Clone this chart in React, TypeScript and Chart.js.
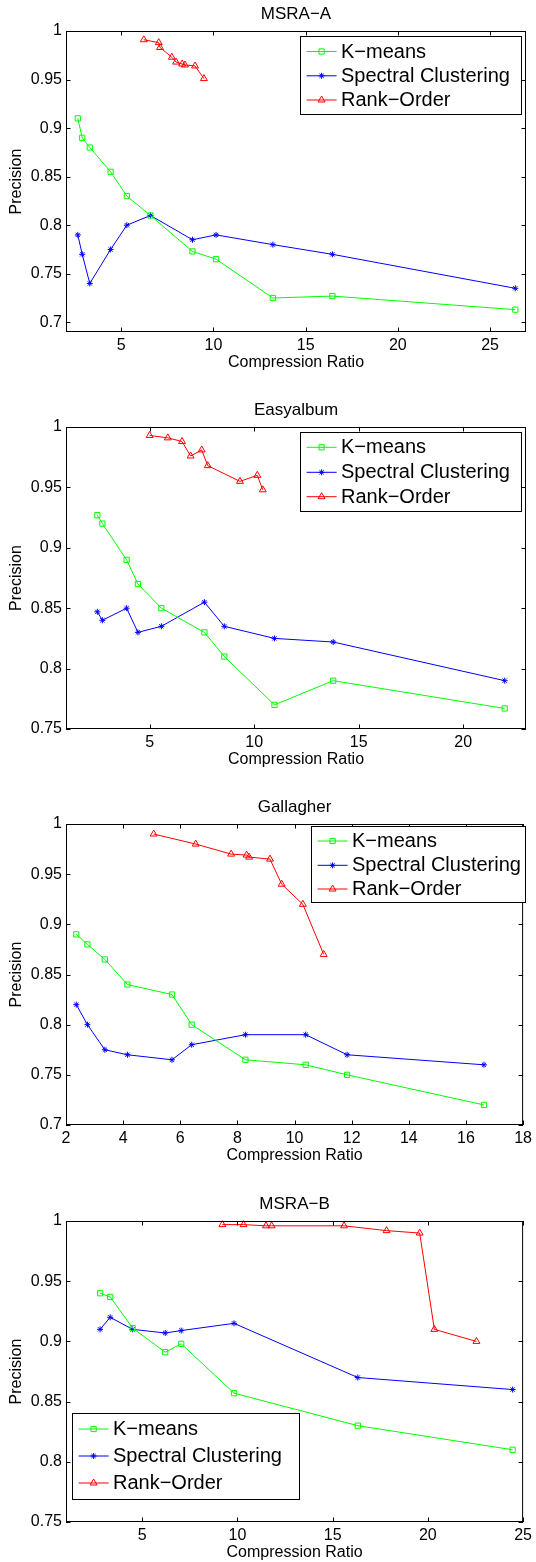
import React, { useEffect, useRef } from "react";
import { Chart, registerables } from "chart.js";

Chart.register(...registerables);

const FONT = "'Liberation Sans', Arial, Helvetica, sans-serif";

const SERIES_NAMES = ["K\u2212means", "Spectral Clustering", "Rank\u2212Order"];
const SERIES_COLORS = ["#00ff00", "#0000ff", "#ff0000"];
const SERIES_MARKERS = ["rect", "star", "triangle"];
const SERIES_RADII = [3.7, 3, 4];

const X_LABEL = "Compression Ratio";
const Y_LABEL = "Precision";

// ---- MSRA-A ----
const msraA_x = [2.64, 2.88, 3.29, 4.42, 5.3, 6.58, 8.86, 10.14, 13.22, 16.45, 26.37];
const msraA_kmeans = [0.91, 0.89, 0.88, 0.855, 0.83, 0.81, 0.773, 0.765, 0.725, 0.727, 0.713];
const msraA_spectral = [0.79, 0.77, 0.74, 0.775, 0.8, 0.81, 0.785, 0.79, 0.78, 0.77, 0.735];
const msraA_rank_x = [6.22, 7.03, 7.1, 7.74, 7.97, 8.3, 8.45, 9.0, 9.48];
const msraA_rank = [0.991, 0.988, 0.983, 0.973, 0.968, 0.966, 0.965, 0.964, 0.951];
const msraA_xTicks = [5, 10, 15, 20, 25];
const msraA_yTicks = [0.7, 0.75, 0.8, 0.85, 0.9, 0.95, 1];

// ---- Easyalbum ----
const easy_x = [2.5, 2.74, 3.9, 4.44, 5.56, 7.62, 8.57, 10.97, 13.78, 21.98];
const easy_kmeans = [0.927, 0.92, 0.89, 0.87, 0.85, 0.83, 0.81, 0.77, 0.79, 0.767];
const easy_spectral = [0.847, 0.84, 0.85, 0.83, 0.835, 0.855, 0.835, 0.825, 0.822, 0.79];
const easy_rank_x = [5.0, 5.87, 6.55, 6.96, 7.49, 7.78, 9.32, 10.15, 10.41];
const easy_rank = [0.993, 0.991, 0.988, 0.976, 0.981, 0.968, 0.955, 0.96, 0.948];
const easy_xTicks = [5, 10, 15, 20];
const easy_yTicks = [0.75, 0.8, 0.85, 0.9, 0.95, 1];

// ---- Gallagher ----
const gal_x = [2.36, 2.75, 3.36, 4.15, 5.71, 6.4, 8.28, 10.39, 11.84, 16.63];
const gal_kmeans = [0.89, 0.88, 0.865, 0.84, 0.83, 0.8, 0.765, 0.76, 0.75, 0.72];
const gal_spectral = [0.82, 0.8, 0.775, 0.77, 0.765, 0.78, 0.79, 0.79, 0.77, 0.76];
const gal_rank_x = [5.07, 6.54, 7.78, 8.32, 8.41, 9.14, 9.55, 10.29, 11.02];
const gal_rank = [0.99, 0.98, 0.97, 0.969, 0.967, 0.965, 0.94, 0.92, 0.87];
const gal_xTicks = [2, 4, 6, 8, 10, 12, 14, 16, 18];
const gal_yTicks = [0.7, 0.75, 0.8, 0.85, 0.9, 0.95, 1];

// ---- MSRA-B ----
const msraB_x = [2.79, 3.32, 4.5, 6.21, 7.05, 9.82, 16.32, 24.45];
const msraB_kmeans = [0.94, 0.937, 0.911, 0.891, 0.898, 0.857, 0.83, 0.81];
const msraB_spectral = [0.91, 0.92, 0.91, 0.907, 0.909, 0.915, 0.87, 0.86];
const msraB_rank_x = [9.21, 10.32, 11.5, 11.8, 15.6, 17.83, 19.57, 20.34, 22.55];
const msraB_rank = [0.997, 0.997, 0.996, 0.996, 0.996, 0.992, 0.99, 0.91, 0.9];
const msraB_xTicks = [5, 10, 15, 20, 25];
const msraB_yTicks = [0.75, 0.8, 0.85, 0.9, 0.95, 1];

type Panel = {
  title: string;
  pageTop: number;
  height: number;
  plot: { left: number; right: number; top: number; bottom: number };
  xRange: [number, number];
  yRange: [number, number];
  xTicks: number[];
  yTicks: number[];
  series: { xs: number[]; ys: number[] }[];
  legend: { x: number; y: number; w: number; h: number; rows: number[] };
};

const PANELS: Panel[] = [
  {
    title: "MSRA\u2212A",
    pageTop: 0,
    height: 390,
    plot: { left: 66, right: 526, top: 31, bottom: 332 },
    xRange: [2, 26.95],
    yRange: [0.69, 1],
    xTicks: msraA_xTicks,
    yTicks: msraA_yTicks,
    series: [
      { xs: msraA_x, ys: msraA_kmeans },
      { xs: msraA_x, ys: msraA_spectral },
      { xs: msraA_rank_x, ys: msraA_rank },
    ],
    legend: { x: 300, y: 36, w: 221, h: 78, rows: [15.5, 39.8, 64] },
  },
  {
    title: "Easyalbum",
    pageTop: 390,
    height: 390,
    plot: { left: 66, right: 526, top: 37, bottom: 339 },
    xRange: [1, 23],
    yRange: [0.75, 1],
    xTicks: easy_xTicks,
    yTicks: easy_yTicks,
    series: [
      { xs: easy_x, ys: easy_kmeans },
      { xs: easy_x, ys: easy_spectral },
      { xs: easy_rank_x, ys: easy_rank },
    ],
    legend: { x: 300, y: 42, w: 221, h: 79, rows: [15.3, 40.3, 64.7] },
  },
  {
    title: "Gallagher",
    pageTop: 780,
    height: 390,
    plot: { left: 66, right: 526, top: 44, bottom: 345 },
    xRange: [2, 18],
    yRange: [0.7, 1],
    xTicks: gal_xTicks,
    yTicks: gal_yTicks,
    series: [
      { xs: gal_x, ys: gal_kmeans },
      { xs: gal_x, ys: gal_spectral },
      { xs: gal_rank_x, ys: gal_rank },
    ],
    legend: { x: 311, y: 46, w: 214, h: 76, rows: [15, 39.3, 63] },
  },
  {
    title: "MSRA\u2212B",
    pageTop: 1170,
    height: 392,
    plot: { left: 66, right: 526, top: 51, bottom: 352 },
    xRange: [1, 25],
    yRange: [0.75, 1],
    xTicks: msraB_xTicks,
    yTicks: msraB_yTicks,
    series: [
      { xs: msraB_x, ys: msraB_kmeans },
      { xs: msraB_x, ys: msraB_spectral },
      { xs: msraB_rank_x, ys: msraB_rank },
    ],
    legend: { x: 72, y: 243, w: 227, h: 86, rows: [16, 43, 70] },
  },
];

const fmtTick = (v: number) => String(Math.round(v * 100) / 100);

function drawMarker(ctx: CanvasRenderingContext2D, style: string, x: number, y: number, r: number) {
  ctx.beginPath();
  if (style === "rect") {
    const s = Math.SQRT1_2 * r;
    ctx.rect(x - s, y - s, 2 * s, 2 * s);
  } else if (style === "star") {
    for (let k = 0; k < 4; k++) {
      const a = (k * Math.PI) / 4;
      ctx.moveTo(x - Math.cos(a) * r, y - Math.sin(a) * r);
      ctx.lineTo(x + Math.cos(a) * r, y + Math.sin(a) * r);
    }
  } else {
    let a = 0;
    ctx.moveTo(x + Math.sin(a) * r, y - Math.cos(a) * r);
    a += (2 * Math.PI) / 3;
    ctx.lineTo(x + Math.sin(a) * r, y - Math.cos(a) * r);
    a += (2 * Math.PI) / 3;
    ctx.lineTo(x + Math.sin(a) * r, y - Math.cos(a) * r);
    ctx.closePath();
  }
  ctx.stroke();
}

function PanelChart({ panel }: { panel: Panel }) {
  const ref = useRef<HTMLCanvasElement | null>(null);

  useEffect(() => {
    if (!ref.current) return;
    const p = panel;
    const X_AXIS_H = 40;

    const framePlugin = {
      id: "frame" + p.title,
      afterDraw(chart: any) {
        const ctx: CanvasRenderingContext2D = chart.ctx;
        const a = chart.chartArea;
        const xs = chart.scales.x;
        const ys = chart.scales.y;
        ctx.save();
        // box
        ctx.strokeStyle = "#000";
        ctx.lineWidth = 1;
        ctx.strokeRect(a.left + 0.5, a.top + 0.5, a.right - a.left - 1, a.bottom - a.top - 1);
        // inward ticks
        const tl = 4.5;
        ctx.beginPath();
        p.xTicks.forEach((v) => {
          const px = Math.round(xs.getPixelForValue(v)) + 0.5;
          ctx.moveTo(px, a.bottom);
          ctx.lineTo(px, a.bottom - tl);
          ctx.moveTo(px, a.top);
          ctx.lineTo(px, a.top + tl);
        });
        p.yTicks.forEach((v) => {
          const py = Math.round(ys.getPixelForValue(v)) + 0.5;
          ctx.moveTo(a.left, py);
          ctx.lineTo(a.left + tl, py);
          ctx.moveTo(a.right, py);
          ctx.lineTo(a.right - tl, py);
        });
        ctx.stroke();

        // title
        ctx.fillStyle = "#000";
        ctx.font = `17px ${FONT}`;
        ctx.textAlign = "center";
        ctx.textBaseline = "alphabetic";
        ctx.fillText(p.title, (a.left + a.right) / 2, a.top - 12.5);

        // legend
        const L = p.legend;
        ctx.fillStyle = "#fff";
        ctx.fillRect(L.x, L.y, L.w, L.h);
        ctx.strokeStyle = "#000";
        ctx.lineWidth = 1;
        ctx.strokeRect(L.x + 0.5, L.y + 0.5, L.w, L.h);
        ctx.font = `20px ${FONT}`;
        ctx.textAlign = "left";
        ctx.textBaseline = "middle";
        SERIES_NAMES.forEach((name, i) => {
          const ry = L.y + L.rows[i];
          ctx.strokeStyle = SERIES_COLORS[i];
          ctx.lineWidth = 1;
          ctx.beginPath();
          ctx.moveTo(L.x + 6.6, ry);
          ctx.lineTo(L.x + 36.6, ry);
          ctx.stroke();
          drawMarker(ctx, SERIES_MARKERS[i], L.x + 21.6, ry, SERIES_RADII[i]);
          ctx.fillStyle = "#000";
          ctx.fillText(name, L.x + 41, ry + 0.5);
        });
        ctx.restore();
      },
    };

    const datasets = p.series.map((s, i) => ({
      label: SERIES_NAMES[i],
      data: s.xs.map((x, j) => ({ x, y: s.ys[j] })),
      showLine: true,
      borderColor: SERIES_COLORS[i],
      backgroundColor: SERIES_COLORS[i],
      borderWidth: 1,
      pointStyle: SERIES_MARKERS[i],
      pointRadius: SERIES_RADII[i],
      pointHoverRadius: SERIES_RADII[i],
      pointBorderColor: SERIES_COLORS[i],
      pointBackgroundColor: "rgba(0,0,0,0)",
      pointBorderWidth: 1,
      tension: 0,
      clip: 8,
    }));

    const chart = new Chart(ref.current, {
      type: "scatter",
      data: { datasets: datasets as any },
      options: {
        animation: false,
        responsive: false,
        devicePixelRatio: 1,
        events: [],
        layout: {
          padding: {
            left: 0,
            right: 536 - p.plot.right,
            top: p.plot.top,
            bottom: p.height - p.plot.bottom - X_AXIS_H,
          },
        },
        plugins: {
          legend: { display: false },
          title: { display: false },
          tooltip: { enabled: false },
        },
        scales: {
          x: {
            type: "linear",
            min: p.xRange[0],
            max: p.xRange[1],
            afterBuildTicks: (s: any) => {
              s.ticks = p.xTicks.map((v) => ({ value: v }));
            },
            afterFit: (s: any) => {
              s.height = X_AXIS_H;
            },
            grid: { display: false, drawTicks: false },
            border: { display: false },
            ticks: {
              color: "#000",
              font: { family: FONT, size: 16 },
              padding: 4,
              maxRotation: 0,
              autoSkip: false,
              callback: (v: any) => fmtTick(Number(v)),
            },
            title: {
              display: true,
              text: X_LABEL,
              color: "#000",
              font: { family: FONT, size: 16 },
              padding: { top: 0, bottom: 0 },
            },
          },
          y: {
            type: "linear",
            min: p.yRange[0],
            max: p.yRange[1],
            afterBuildTicks: (s: any) => {
              s.ticks = p.yTicks.map((v) => ({ value: v }));
            },
            afterFit: (s: any) => {
              s.width = p.plot.left;
            },
            grid: { display: false, drawTicks: false },
            border: { display: false },
            ticks: {
              color: "#000",
              font: { family: FONT, size: 16 },
              padding: 4,
              autoSkip: false,
              callback: (v: any) => fmtTick(Number(v)),
            },
            title: {
              display: true,
              text: Y_LABEL,
              color: "#000",
              font: { family: FONT, size: 16 },
              padding: { top: 7, bottom: 0 },
            },
          },
        },
      } as any,
      plugins: [framePlugin],
    });

    return () => chart.destroy();
  }, [panel]);

  return (
    <div style={{ position: "absolute", left: 0, top: panel.pageTop, width: 536, height: panel.height }}>
      <canvas ref={ref} width={536} height={panel.height} style={{ display: "block", width: 536, height: panel.height }} />
    </div>
  );
}

export default function App() {
  return (
    <div style={{ position: "absolute", left: 0, top: 0, width: 536, height: 1562, background: "#fff" }}>
      {PANELS.map((p) => (
        <PanelChart key={p.title} panel={p} />
      ))}
    </div>
  );
}
